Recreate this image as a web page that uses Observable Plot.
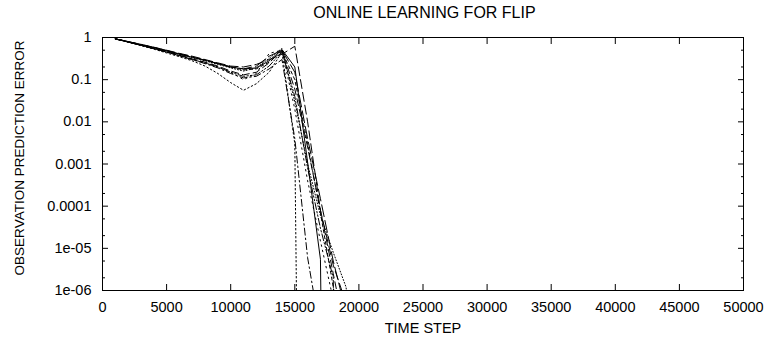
<!DOCTYPE html>
<html>
<head>
<meta charset="utf-8">
<script src="https://cdn.jsdelivr.net/npm/d3@7"></script>
<script src="https://cdn.jsdelivr.net/npm/@observablehq/plot@0.6"></script>
<style>
  body { margin: 0; background: #fff; font-family: "Liberation Sans", Arial, sans-serif; }
  #title { height: 24px; line-height: 25px; text-align: center; font-size: 16px; color: #000;
           padding-left: 106px; padding-right: 21px; box-sizing: border-box; width: 764px; }
</style>
</head>
<body>
<div id="title">ONLINE LEARNING FOR FLIP</div>
<div id="chart"></div>
<script>
// ---- data ----
const steps = [1000, 2000, 3000, 4000, 5000, 6000, 7000, 8000, 9000, 10000,
               11000, 12000, 13000, 14000, 15000, 16000, 17000, 18000, 19000, 20000];

const run1  = [0.93, 0.79, 0.67, 0.57, 0.48, 0.40, 0.34, 0.29, 0.24, 0.20, 0.18, 0.19, 0.28, 0.52, 0.20, 1.1e-3, 5.5e-6, 1e-30];
const run2  = [0.92, 0.78, 0.66, 0.55, 0.46, 0.38, 0.31, 0.26, 0.21, 0.16, 0.13, 0.15, 0.25, 0.50, 0.06, 2.5e-3, 8e-5, 2.5e-6, 8e-8];
const run3  = [0.93, 0.80, 0.69, 0.59, 0.50, 0.42, 0.36, 0.30, 0.25, 0.21, 0.20, 0.23, 0.30, 0.40, 0.62, 1e-2, 8e-5, 4e-6, 5e-7];
const run4  = [0.92, 0.77, 0.64, 0.53, 0.43, 0.35, 0.28, 0.21, 0.14, 0.085, 0.056, 0.08, 0.15, 0.45, 3e-3, 1e-30];
const run5  = [0.93, 0.79, 0.66, 0.55, 0.45, 0.37, 0.30, 0.24, 0.19, 0.14, 0.11, 0.12, 0.18, 0.30, 4e-3, 6e-6, 1e-7];
const run6  = [0.93, 0.80, 0.68, 0.58, 0.49, 0.41, 0.35, 0.29, 0.24, 0.20, 0.17, 0.18, 0.26, 0.47, 0.10, 3e-3, 7e-5, 1.2e-6, 2e-8];
const run7  = [0.93, 0.79, 0.67, 0.57, 0.48, 0.40, 0.33, 0.28, 0.23, 0.19, 0.16, 0.19, 0.32, 0.55, 0.03, 1e-3, 6e-5, 8e-6, 1.2e-6, 1e-9];
const run8  = [0.92, 0.78, 0.65, 0.54, 0.45, 0.37, 0.30, 0.25, 0.20, 0.15, 0.12, 0.13, 0.21, 0.46, 0.04, 8e-4, 3e-5, 2e-6, 1e-30];
const run9  = [0.93, 0.80, 0.68, 0.58, 0.49, 0.41, 0.34, 0.29, 0.24, 0.20, 0.18, 0.21, 0.36, 0.50, 0.15, 4e-3, 1.5e-4, 5e-6, 3e-7];
const run10 = [0.93, 0.79, 0.66, 0.56, 0.46, 0.38, 0.31, 0.25, 0.20, 0.15, 0.10, 0.14, 0.42, 0.50, 0.02, 4e-4, 1.5e-5, 6e-7];

const runs = [run1, run2, run3, run4, run5, run6, run7, run8, run9, run10];

const yTitle = "OBSERVATION PREDICTION ERROR";
const xTitle = "TIME STEP";
const yTickValues = [1, 0.1, 0.01, 0.001, 0.0001, 1e-5, 1e-6];
const yTickLabels = ["1", "0.1", "0.01", "0.001", "0.0001", "1e-05", "1e-06"];
const yMinorValues = [0.5, 0.2, 0.05, 0.02, 0.005, 0.002, 5e-4, 2e-4, 5e-5, 2e-5, 5e-6, 2e-6];
const xTickValues = [0, 5000, 10000, 15000, 20000, 25000, 30000, 35000, 40000, 45000, 50000];
const xTickLabels = ["0", "5000", "10000", "15000", "20000", "25000", "30000", "35000", "40000", "45000", "50000"];

// ---- styles ----
const dashes = ["none", "7,4", "9,4", "1.5,2.5", "7,3,1.5,3", "3,3", "1,2", "7,2,1.5,2,1.5,2", "12,4", "1.5,4"];

// ---- build ----
const yLabelMap = new Map(yTickValues.map((v, i) => [v, yTickLabels[i]]));
const xLabelMap = new Map(xTickValues.map((v, i) => [v, xTickLabels[i]]));

const lineMarks = runs.map((vals, k) => {
  const rows = vals.map((v, i) => ({step: steps[i], value: v}));
  return Plot.line(rows, {
    x: "step", y: "value", stroke: "#000", strokeWidth: 1,
    strokeDasharray: dashes[k], clip: true
  });
});

const chart = Plot.plot({
  width: 764,
  height: 317,
  marginTop: 13,
  marginBottom: 51,
  marginLeft: 102,
  marginRight: 21,
  style: {fontFamily: "'Liberation Sans', Arial, sans-serif", fontSize: "14.5px", color: "#000", background: "#fff"},
  x: {domain: [0, 50000]},
  y: {type: "log", domain: [1e-6, 1]},
  marks: [
    ...lineMarks,
    Plot.frame({stroke: "#000", strokeWidth: 1}),
    Plot.axisY(yTickValues, {anchor: "left", tickSize: 0, tickPadding: 11,
      tickFormat: d => yLabelMap.get(d), label: null}),
    Plot.text([yTitle], {frameAnchor: "left", rotate: -90, dx: -83, dy: -6,
      fontSize: 13.5, textAnchor: "middle", fill: "#000"}),
    Plot.axisY(yTickValues, {anchor: "left", tickSize: -6, tickFormat: () => "", label: null}),
    Plot.axisY(yTickValues, {anchor: "right", tickSize: -6, tickFormat: () => "", label: null}),
    Plot.axisY(yMinorValues, {anchor: "left", tickSize: -3, tickFormat: () => "", label: null}),
    Plot.axisY(yMinorValues, {anchor: "right", tickSize: -3, tickFormat: () => "", label: null}),
    Plot.axisX(xTickValues, {anchor: "bottom", tickSize: 0, tickPadding: 11,
      tickFormat: d => xLabelMap.get(d),
      label: xTitle, labelAnchor: "center", labelOffset: 42, labelArrow: "none"}),
    Plot.axisX(xTickValues, {anchor: "bottom", tickSize: -6, tickFormat: () => "", label: null}),
    Plot.axisX(xTickValues, {anchor: "top", tickSize: -6, tickFormat: () => "", label: null})
  ]
});
document.getElementById("chart").appendChild(chart);
</script>
</body>
</html>
